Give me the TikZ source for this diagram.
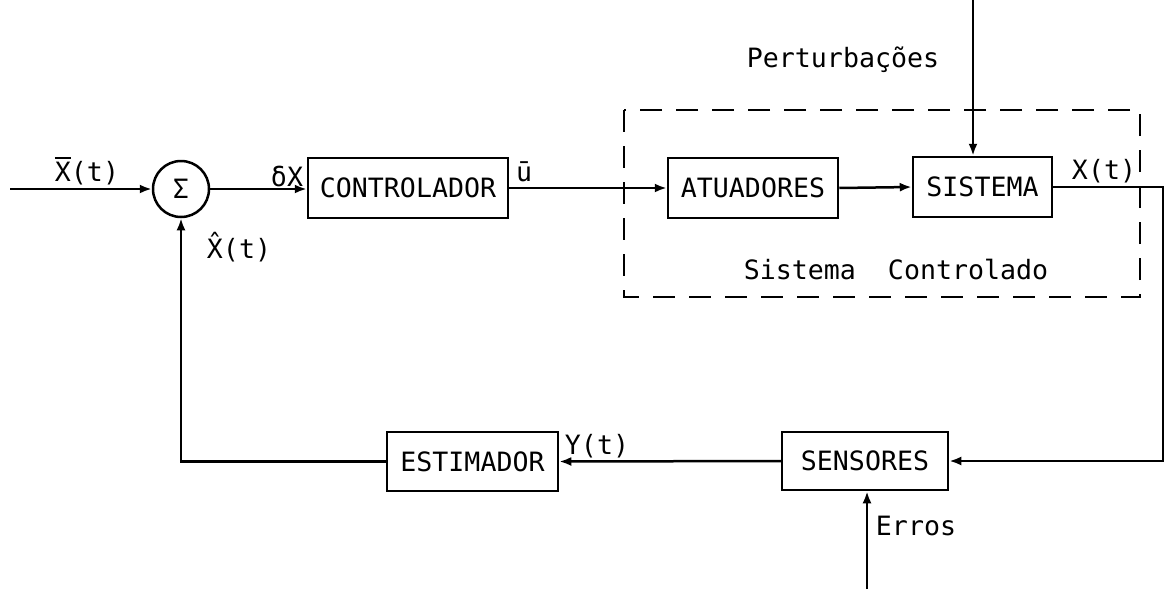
\documentclass[tikz,border=0pt]{standalone}
\usepackage{fontspec}
\setmainfont{DejaVu Sans Mono}
\usetikzlibrary{positioning}
\usetikzlibrary{arrows.meta}
\newcommand\fonte{\fontsize{13.3}{15}\selectfont}
\newcommand\barra[1]{\leavevmode\vbox{\hrule height 0.8pt\kern1.6pt\hbox{#1}}}
\tikzset{
    bloco/.style={draw, line width=1.25pt, inner sep=0pt, minimum height=30pt},
    seta/.style={line width=1.25pt, -{Latex[length=6pt,width=4.5pt]}},
    rotulo/.style={inner sep=0pt},
    tracejado/.style={line width=1.1pt, dash pattern=on 11pt off 7pt}
}

\begin{document}
\begin{tikzpicture}[x=0.5pt, y=-0.5pt, every node/.style={font=\fonte}]
    \useasboundingbox (0,0) rectangle (1166,589);

    % Draw blocks
    \node[circle, draw, line width=1.25pt, minimum size=28pt, inner sep=0pt] (soma) at (181,189) {Σ};
    \node[bloco, minimum width=100pt] (ctrl) at (408,188) {CONTROLADOR};
    \node[bloco, minimum width=85pt] (atua) at (753,188) {ATUADORES};
    \node[bloco, minimum width=69.5pt] (sist) at (982.5,187) {SISTEMA};
    \node[bloco, minimum width=83pt, minimum height=29pt] (sens) at (865,461) {SENSORES};
    \node[bloco, minimum width=85.5pt, minimum height=29.5pt] (estim) at (472.5,461.5) {ESTIMADOR};

    % Controlled system frame
    \draw[tracejado] (624,110) rectangle (1140,297);
    \node[rotulo] (sistctrl) at (896,270) {Sistema~~Controlado};

    % Free ends
    \coordinate (entrada) at (10,189);
    \coordinate (pert) at (973,0);
    \coordinate (erro) at (867,589);
    \coordinate (canto) at (1163,0);

    % Draw connectors
    \draw[seta] (entrada) -- (soma.west);
    \draw[seta] (soma.east) -- (soma.east -| ctrl.west);
    \draw[seta] (ctrl.east) -- (atua.west);
    \draw[seta] (atua.east) -- (sist.west);
    \draw[seta] (pert) -- (pert |- sist.north);
    \draw[seta] (sist.east) -- (sist.east -| canto) |- (sens.east);
    \draw[seta] (erro) -- (erro |- sens.south);
    \draw[seta] (sens.west) -- (estim.east);
    \draw[seta] (estim.west) -| (soma.south);

    % Labels
    \node[rotulo] (lxref) at (87,171) {\barra{X}(t)};
    \node[rotulo] (ldx) at (287,176) {δX};
    \node[rotulo] (lu) at (524,172) {ū};
    \node[rotulo] (lxhat) at (239,247) {X̂(t)};
    \node[rotulo] (lx) at (1104,171) {X(t)};
    \node[rotulo] (ly) at (597,446) {Y(t)};
    \node[rotulo] (lpert) at (843,60) {Perturbações};
    \node[rotulo] (lerro) at (916,526) {Erros};
\end{tikzpicture}
\end{document}
